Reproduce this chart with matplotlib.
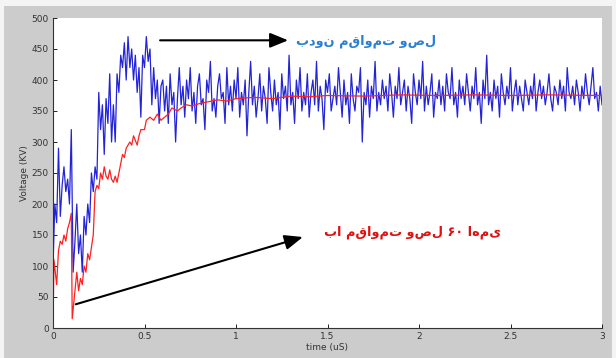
import numpy as np
import matplotlib
matplotlib.use('Agg')
import matplotlib.pyplot as plt
from matplotlib.patches import Rectangle

# blue trace (no closing resistor), one value every 0.01 us from 0 to 3 us
blue_kv = [
    100, 200, 170, 290, 180, 230, 260, 220, 240, 200, 320, 90, 140, 200, 120, 150, 90, 180, 150, 200,
    170, 250, 220, 260, 240, 380, 320, 360, 280, 370, 330, 410, 300, 360, 300, 410, 380, 440, 420, 460,
    400, 470, 420, 450, 400, 440, 380, 420, 340, 440, 420, 470, 430, 450, 360, 420, 370, 400, 330, 390,
    400, 350, 390, 330, 410, 360, 380, 300, 370, 420, 360, 390, 340, 400, 370, 420, 350, 380, 330, 390,
    410, 360, 370, 320, 400, 380, 430, 350, 370, 340, 390, 410, 370, 380, 330, 420, 360, 390, 350, 400,
    370, 420, 340, 380, 360, 400, 310, 380, 430, 360, 390, 340, 370, 410, 350, 390, 370, 330, 420, 380,
    350, 400, 360, 380, 320, 410, 370, 390, 350, 440, 360, 380, 330, 400, 370, 420, 350, 380, 360, 410,
    340, 380, 400, 360, 430, 350, 390, 370, 320, 400, 380, 410, 350, 370, 390, 360, 420, 380, 340, 400,
    360, 380, 330, 410, 370, 350, 390, 380, 420, 300, 380, 360, 400, 340, 390, 370, 430, 350, 380, 360,
    400, 370, 390, 350, 410, 380, 340, 390, 370, 420, 360, 380, 400, 350, 390, 370, 330, 410, 380, 360,
    400, 370, 430, 350, 390, 360, 380, 410, 340, 380, 370, 400, 360, 390, 350, 410, 380, 370, 420, 360,
    380, 340, 400, 370, 390, 360, 410, 380, 350, 390, 370, 420, 360, 380, 330, 400, 370, 440, 360, 380,
    350, 400, 370, 390, 340, 410, 380, 360, 390, 370, 420, 350, 380, 400, 360, 390, 370, 350, 400, 380,
    360, 390, 370, 410, 350, 380, 400, 370, 390, 360, 380, 410, 370, 350, 390, 380, 360, 400, 370, 390,
    350, 420, 380, 370, 390, 360, 400, 380, 350, 390, 370, 410, 380, 360, 390, 420, 370, 380, 350, 390,
    360,
]

# red trace (60 ohm closing resistor)
red_t = [0.0, 0.005, 0.02, 0.03, 0.04, 0.05, 0.06, 0.07, 0.08, 0.09, 0.10, 0.105, 0.12, 0.13, 0.14,
         0.15, 0.16, 0.17, 0.18, 0.19, 0.20, 0.21, 0.22, 0.23, 0.24, 0.25, 0.26, 0.27, 0.28, 0.29,
         0.30, 0.31, 0.32, 0.33, 0.34, 0.35, 0.36, 0.37, 0.38, 0.39, 0.40, 0.42, 0.43, 0.44, 0.46,
         0.47, 0.48, 0.50, 0.51, 0.53, 0.55, 0.57, 0.59, 0.61, 0.63, 0.65, 0.68, 0.70, 0.73, 0.76,
         0.80, 0.85, 0.90, 0.95, 1.0, 1.1, 1.2, 1.3, 1.4, 1.5, 1.7, 1.9, 2.1, 2.3, 2.5, 2.7, 3.0]
red_kv = [0, 110, 70, 125, 140, 135, 150, 140, 160, 170, 185, 15, 60, 90, 60,
          80, 70, 100, 90, 120, 110, 130, 150, 220, 230, 225, 250, 240, 260, 245,
          240, 255, 240, 235, 245, 235, 250, 265, 280, 275, 290, 300, 295, 310, 295,
          310, 320, 320, 335, 340, 335, 345, 335, 340, 345, 355, 350, 355, 360, 358,
          362, 365, 368, 366, 370, 372, 370, 374, 373, 375, 374, 376, 375, 376, 375, 376, 375]

x_ticks = [0, 0.5, 1, 1.5, 2, 2.5, 3]
x_labels = ['0', '0.5', '1', '1.5', '2', '2.5', '3']
y_ticks = list(range(0, 501, 50))

label_no_res = 'بدون مقاومت وصل'
label_res = 'با مقاومت وصل ۶۰ اهمی'

fig = plt.figure(figsize=(6.16, 3.58), dpi=100, facecolor='#f4f4f4')
fig.patches.append(Rectangle((4 / 616, 0), 608 / 616, 352 / 358, transform=fig.transFigure,
                             facecolor='#cccccc', edgecolor='none', zorder=-10))
ax = fig.add_axes([53 / 616, 30 / 358, 549 / 616, 310 / 358])

t_blue = np.linspace(0, 3, len(blue_kv))
ax.plot(t_blue, blue_kv, color='#2323d8', lw=0.9)
ax.plot(red_t, red_kv, color='#ff2020', lw=0.9)

ax.set_xlim(0, 3)
ax.set_ylim(0, 500)
ax.set_xticks(x_ticks)
ax.set_xticklabels(x_labels)
ax.set_yticks(y_ticks)
ax.tick_params(direction='in', length=3, width=0.6, labelsize=6.5, labelcolor='#333333', pad=3)
for s in ['top', 'right']:
    ax.spines[s].set_visible(False)
for s in ['left', 'bottom']:
    ax.spines[s].set_linewidth(0.8)
    ax.spines[s].set_color('#333333')
ax.set_xlabel('time (uS)', fontsize=6.5, color='#333333', labelpad=1)
ax.set_ylabel('Voltage (KV)', fontsize=6.5, color='#333333', labelpad=2)

ax.annotate('', xy=(1.3, 464), xytext=(0.57, 464),
            arrowprops=dict(arrowstyle='-|>,head_length=1.1,head_width=0.45', color='black', lw=1.5))
ax.annotate('', xy=(1.38, 148), xytext=(0.11, 37),
            arrowprops=dict(arrowstyle='-|>,head_length=1.1,head_width=0.45', color='black', lw=1.5))
ax.text(1.33, 462, label_no_res, color='#2b7fd0', fontsize=9.3, fontweight='bold',
        family=['DejaVu Sans'], ha='left', va='center')
ax.text(1.48, 154, label_res, color='#e01010', fontsize=9.3, fontweight='bold',
        family=['DejaVu Sans'], ha='left', va='center')

fig.savefig('out.png', dpi=100, facecolor=fig.get_facecolor())
